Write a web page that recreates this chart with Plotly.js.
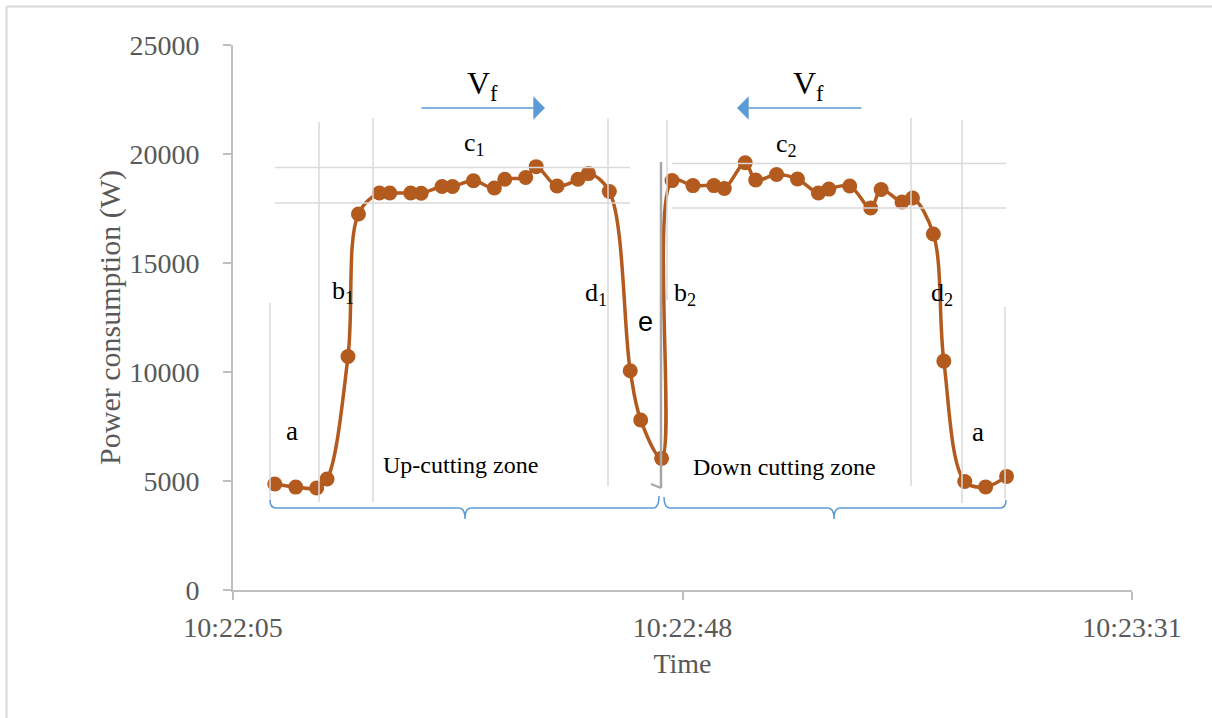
<!DOCTYPE html>
<html>
<head>
<meta charset="utf-8">
<script src="https://cdn.plot.ly/plotly-3.0.1.min.js"></script>
<style>
  html, body { margin: 0; padding: 0; background: #fff; }
  #chart { width: 1212px; height: 718px; }
</style>
</head>
<body>
<div id="chart"></div>
<script>
// ---- data ----
const day = '2020-01-01 ';
const times = ['10:22:09','10:22:11','10:22:13','10:22:14','10:22:16','10:22:17','10:22:19','10:22:20',
  '10:22:22','10:22:23','10:22:25','10:22:26','10:22:28','10:22:30','10:22:31','10:22:33','10:22:34',
  '10:22:36','10:22:38','10:22:39','10:22:41','10:22:43','10:22:44','10:22:46','10:22:47','10:22:49',
  '10:22:51','10:22:52','10:22:54','10:22:55','10:22:57','10:22:59','10:23:01','10:23:02','10:23:04',
  '10:23:06','10:23:07','10:23:09','10:23:10','10:23:12','10:23:13','10:23:15','10:23:17','10:23:19'];
const power = [4860, 4720, 4680, 5090, 10710, 17250, 18210, 18210, 18210, 18200, 18510, 18510, 18770,
  18440, 18840, 18920, 19420, 18530, 18840, 19100, 18280, 10060, 7800, 6040, 18780, 18550, 18550, 18420,
  19600, 18810, 19060, 18850, 18210, 18390, 18530, 17520, 18370, 17800, 17980, 16330, 10500, 4980, 4730, 5210];
const xTicks = ['10:22:05', '10:22:48', '10:23:31'];
const yTicks = [0, 5000, 10000, 15000, 20000, 25000];

// ---- geometry helpers for decorations (pixel -> paper) ----
const W = 1212, H = 718;
const M = {l: 233, r: 80, t: 45, b: 128};
const PW = W - M.l - M.r, PH = H - M.t - M.b;
const px = x => (x - M.l) / PW;
const py = y => (H - M.b - y) / PH;

const serif = 'Liberation Serif, Times New Roman, serif';
const lightGrey = '#D9D9D9';
const blue = '#5B9BD5';

function vline(x, y0, y1, color, width) {
  return {type: 'line', xref: 'paper', yref: 'paper', x0: px(x), x1: px(x), y0: py(y0), y1: py(y1),
          line: {color: color || lightGrey, width: width || 1.5}};
}
function hline(y, x0, x1) {
  return {type: 'line', xref: 'paper', yref: 'paper', x0: px(x0), x1: px(x1), y0: py(y), y1: py(y),
          line: {color: lightGrey, width: 1.5}};
}
function pathP(cmds) {
  return cmds.map(c => c[0] + ' ' + c.slice(1).map((v, i) => i % 2 === 0 ? px(v).toFixed(5) : py(v).toFixed(5)).join(',')).join(' ');
}
function brace(x0, xc, x1, yl, yEnd0, yEnd1, yTip) {
  return {type: 'path', xref: 'paper', yref: 'paper', line: {color: blue, width: 1.5},
    path: pathP([['M', x0, yEnd0], ['Q', x0, yl, x0 + 6, yl], ['L', xc - 6, yl], ['Q', xc, yl, xc, yTip],
                 ['Q', xc, yl, xc + 6, yl], ['L', x1 - 6, yl], ['Q', x1, yl, x1, yEnd1]])};
}

const shapes = [
  {type: 'line', xref: 'paper', yref: 'paper', x0: px(6.5), x1: px(1212), y0: py(6.5), y1: py(6.5), line: {color: lightGrey, width: 2}},
  {type: 'line', xref: 'paper', yref: 'paper', x0: px(6.5), x1: px(6.5), y0: py(6.5), y1: py(718), line: {color: lightGrey, width: 2}},
  vline(270, 303, 502), vline(319, 122, 502), vline(373, 118, 502), vline(608, 118, 486),
  vline(667, 120, 300), vline(911, 118, 486), vline(962, 120, 503), vline(1005, 307, 499),
  hline(167.5, 275, 630), hline(203, 275, 630), hline(163.5, 672, 1006), hline(208, 672, 1006),
  vline(661, 162, 488, '#A6A6A6', 2.5),
  {type: 'line', xref: 'paper', yref: 'paper', x0: px(651), x1: px(661), y0: py(484), y1: py(488), line: {color: '#A6A6A6', width: 2}},
  brace(270, 465, 659, 508, 500, 496, 519),
  brace(664, 834, 1006, 508, 497, 500, 519)
];

function label(text, x, y, size, family) {
  return {text: text, xref: 'paper', yref: 'paper', x: px(x), y: py(y), xanchor: 'center', yanchor: 'middle',
          showarrow: false, font: {family: family || serif, size: size || 26, color: '#000'}};
}
function arrow(xHead, xTail, y) {
  return {text: '', xref: 'paper', yref: 'paper', x: px(xHead), y: py(y), ax: xTail - xHead, ay: 0,
          showarrow: true, arrowhead: 1, arrowsize: 2.6, arrowwidth: 1.5, arrowcolor: blue, standoff: 0};
}

const annotations = [
  label('V<sub>f</sub>', 482, 86, 32), label('V<sub>f</sub>', 808, 86, 32),
  arrow(545, 420, 108), arrow(737, 863, 108),
  label('c<sub>1</sub>', 474, 144), label('c<sub>2</sub>', 786, 145),
  label('b<sub>1</sub>', 343, 292), label('b<sub>2</sub>', 685, 294),
  label('d<sub>1</sub>', 596, 294), label('d<sub>2</sub>', 942, 294),
  label('e', 645, 322, 27, 'Liberation Sans, Arial, sans-serif'),
  label('a', 292, 431, 27), label('a', 978, 432, 27),
  label('Up-cutting zone', 460, 465, 24), label('Down cutting zone', 784, 467, 24)
];

const trace = {
  x: times.map(t => day + t), y: power, type: 'scatter', mode: 'lines+markers',
  line: {color: '#B35A1F', width: 3.5, shape: 'spline', smoothing: 1},
  marker: {color: '#B35A1F', size: 15},
  hoverinfo: 'x+y'
};

const layout = {
  width: W, height: H, margin: M, paper_bgcolor: '#fff', plot_bgcolor: '#fff', showlegend: false,
  font: {family: serif, color: '#595959'},
  xaxis: {
    type: 'date', range: [day + xTicks[0], day + xTicks[2]], tickvals: xTicks.map(t => day + t),
    ticktext: xTicks, tickmode: 'array', showgrid: false, zeroline: false,
    showline: true, linecolor: '#BFBFBF', linewidth: 2, ticks: 'outside', ticklen: 8, tickcolor: '#BFBFBF', tickwidth: 2,
    tickfont: {family: serif, size: 28, color: '#595959'}, ticklabelstandoff: 3,
    title: {text: 'Time', font: {family: serif, size: 28, color: '#595959'}, standoff: 12}
  },
  yaxis: {
    range: [0, 25000], tickvals: yTicks, ticktext: yTicks.map(String), tickmode: 'array', showgrid: false, zeroline: false,
    showline: true, linecolor: '#BFBFBF', linewidth: 2, ticks: 'outside', ticklen: 8, tickcolor: '#BFBFBF', tickwidth: 2,
    tickfont: {family: serif, size: 28, color: '#595959'}, ticklabelstandoff: 18,
    title: {text: 'Power consumption (W)', font: {family: serif, size: 30, color: '#595959'}, standoff: 0}
  },
  shapes: shapes, annotations: annotations
};

Plotly.newPlot('chart', [trace], layout, {displayModeBar: false, staticPlot: true});
</script>
</body>
</html>
